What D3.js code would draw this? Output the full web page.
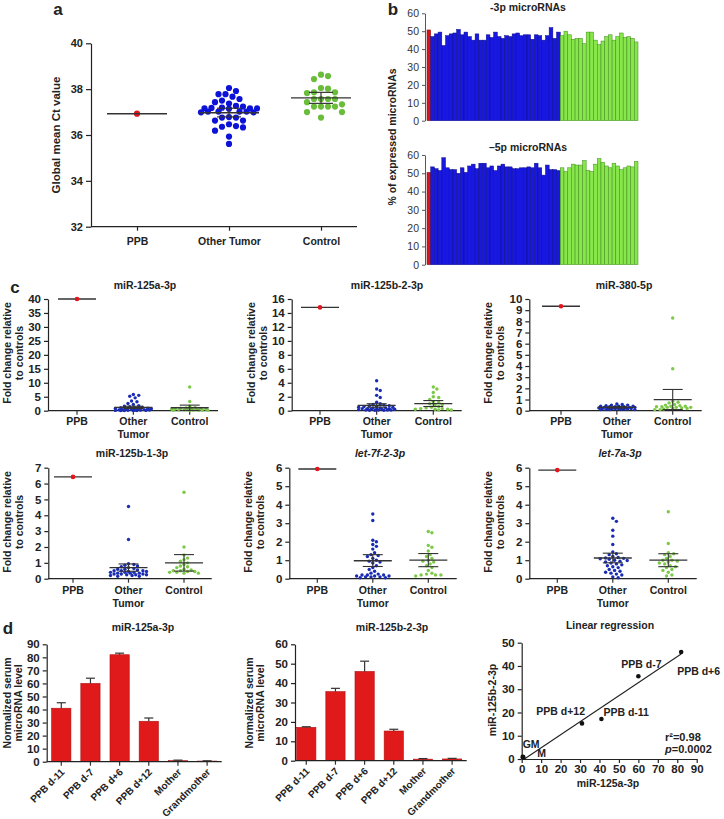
<!DOCTYPE html>
<html><head><meta charset="utf-8">
<script src="https://cdn.jsdelivr.net/npm/d3@7"></script>
<style>
body{margin:0;background:#fff;}
svg{display:block;font-family:"Liberation Sans",Arial,Helvetica,sans-serif;background:#fff;}
</style></head><body>
<svg id="fig" width="724" height="819"></svg>
<script>
// ---------------- DATA ----------------
// Panel a
const aGroups = ["PPB", "Other Tumor", "Control"];
const aTicks = [32, 34, 36, 38, 40];
const aPPB = [36.93];
const aOther = [37.92,37.78,37.78,38.05,37.67,37.57,37.43,37.37,37.5,37.24,37.16,37.18,37.14,37.16,37.16,37.19,37.27,37.02,37.02,36.99,37.02,36.99,37.02,36.63,36.76,36.76,36.78,36.63,36.36,36.33,36.39,36.47,36.19,35.93,35.61];
const aControl = [38.63,38.57,38.44,38.05,38.02,37.86,37.86,37.83,37.57,37.57,37.57,37.57,37.34,37.24,37.24,37.24,37.24,37.43,37.0,37.0,36.76];
const aMean = [36.93, 36.97, 37.62];
const aSEhi = [36.93, 37.17, 37.86];
const aSElo = [36.93, 36.79, 37.38];

// Panel b
const bTitles = ["-3p microRNAs", "\u20135p microRNAs"];
const bTicks = [0, 10, 20, 30, 40, 50, 60];
const bGroupSizes = [1, 35, 21]; // PPB, Other Tumor, Control
const b3p = [50.7,
  47,48.5,49.5,42,47.5,48.5,49,51,48,49.5,47,45,48.5,45,45,48,46.5,49.5,47,46,47.5,47,48.5,49,47.5,48,48,45.5,48,47.5,45,47.5,52,46,49.5,
  47.5,50,48,45.5,46,46,43,49.5,49.5,45,42.5,44.5,47,48,45,47,49,46.5,47,46,44];
const b5p = [50.5,
  53.5,52.5,51.5,58.5,53,52,52,50,53,50.5,54,55,52.5,55.5,55.5,53,54,51.5,54,55,53.5,53.5,52.5,52.5,53,53,53.5,53,55.5,53,49,54.5,52,52,51.5,
  53,51,53,55,54.5,54.5,57,51.5,51,55,58,56,54,53,55.5,54,52,53,54,53.5,56.5];

// Panel c
const cTitles = ["miR-125a-3p", "miR-125b-2-3p", "miR-380-5p", "miR-125b-1-3p", "let-7f-2-3p", "let-7a-3p"];
const cYMax = [40, 16, 10, 7, 6, 6];
const cYStep = [5, 2, 1, 1, 1, 1];
const cPPB = [40, 14.8, 9.35, 6.42, 5.93, 5.87];
const cOther125a = [5.8,5.5,5.2,4.6,3.5,3.2,2.6,2.2,1.8,1.6,1.4,1.2,1.1,1.0,0.9,0.8,0.7,0.6,0.5,0.45,0.4,0.35,0.3,0.25,0.2,0.2,0.15,0.1,0.1,0.05,0.05,0.05,0.05];
const cCtrl125a = [8.5,3.3,1.6,1.2,1.0,0.9,0.8,0.7,0.6,0.5,0.5,0.4,0.35,0.3,0.3,0.25,0.2,0.2,0.15,0.1,0.1];
const cOther125b2 = [4.3,3.1,2.9,2.2,1.9,1.2,1.0,0.9,0.8,0.7,0.7,0.6,0.6,0.5,0.5,0.4,0.4,0.4,0.3,0.3,0.3,0.2,0.2,0.2,0.2,0.15,0.1,0.1,0.1,0.1,0.05,0.05,0.05];
const cCtrl125b2 = [3.4,3.1,2.6,2.0,1.9,1.6,1.3,1.2,1.0,0.9,0.8,0.6,0.5,0.4,0.3,0.3,0.2,0.2,0.2,0.1,0.1];
const cOther380 = [0.6,0.55,0.5,0.5,0.45,0.4,0.4,0.4,0.35,0.35,0.35,0.3,0.3,0.3,0.3,0.25,0.25,0.25,0.25,0.2,0.2,0.2,0.2,0.2,0.15,0.15,0.15,0.15,0.1,0.1,0.1,0.1,0.1];
const cCtrl380 = [8.3,3.75,0.85,0.75,0.7,0.55,0.5,0.45,0.4,0.4,0.35,0.35,0.3,0.3,0.3,0.25,0.2,0.2,0.15,0.1,0.1];
const cOther125b1 = [4.55,2.47,0.95,0.9,0.85,0.8,0.75,0.7,0.65,0.6,0.6,0.55,0.5,0.5,0.5,0.45,0.45,0.4,0.4,0.4,0.35,0.35,0.35,0.3,0.3,0.3,0.25,0.25,0.25,0.2,0.2,0.15,0.15];
const cCtrl125b1 = [5.45,2.0,1.5,1.3,1.2,1.1,1.0,0.9,0.8,0.75,0.7,0.6,0.55,0.5,0.5,0.45,0.45,0.4,0.4,0.35,0.35];
const cOther7f = [3.5,3.15,2.08,2.0,1.85,1.75,1.6,1.4,1.3,1.25,1.2,1.1,1.0,0.95,0.9,0.85,0.7,0.6,0.5,0.4,0.3,0.25,0.2,0.2,0.2,0.15,0.15,0.15,0.1,0.1,0.1,0.05,0.05];
const cCtrl7f = [2.55,2.48,1.8,1.7,1.5,1.3,1.2,1.1,1.0,0.95,0.9,0.8,0.7,0.6,0.45,0.3,0.25,0.2,0.2,0.2,0.15];
const cOther7a = [3.27,3.1,2.62,2.3,1.85,1.45,1.35,1.3,1.2,1.15,1.12,1.1,1.08,1.05,1.0,0.98,0.95,0.9,0.85,0.8,0.75,0.7,0.65,0.6,0.5,0.45,0.4,0.35,0.3,0.25,0.2,0.1,0.05];
const cCtrl7a = [3.62,1.9,1.4,1.35,1.3,1.2,1.1,1.0,1.0,0.95,0.9,0.85,0.8,0.7,0.65,0.6,0.5,0.45,0.35,0.2,0.15];
const cOtherMean = [1.2, 0.75, 0.3, 0.7, 0.97, 1.12];
const cOtherHi = [1.6, 1.0, 0.36, 0.93, 1.3, 1.38];
const cOtherLo = [0.8, 0.5, 0.24, 0.47, 0.66, 0.86];
const cCtrlMean = [1.05, 1.02, 1.0, 1.0, 1.0, 1.0];
const cCtrlHi = [2.0, 1.45, 1.9, 1.52, 1.36, 1.35];
const cCtrlLo = [0.1, 0.6, 0.1, 0.48, 0.65, 0.65];

// Panel d
const dSamples = ["PPB d-11", "PPB d-7", "PPB d+6", "PPB d+12", "Mother", "Grandmother"];
const dTitles = ["miR-125a-3p", "miR-125b-2-3p"];
const d125a = [41, 60, 82, 31, 0.8, 0.5];
const d125aErr = [4.2, 4.0, 1.2, 2.5, 0.4, 0.2];
const d125b2 = [17.2, 35.6, 46, 15.3, 0.8, 0.9];
const d125b2Err = [0.3, 1.7, 5.3, 0.9, 0.3, 0.3];
const regLabels = ["PPB d-11", "PPB d-7", "PPB d+6", "PPB d+12", "M", "GM"];
const regStats = ["r\u00b2=0.98", "=0.0002"];

// ---------------- DRAWING ----------------
const svg = d3.select("#fig");
const INK = "#222";
const RED = "#e3141c", BLUE = "#0c12d6", GREEN = "#69bd3a";
const BLUE_C = "#1a2cb4", GREEN_C = "#7cc947";
const intFmt = d3.format("~g");

function txt(g, x, y, s, o = {}) {
  const t = g.append("text").attr("x", x).attr("y", y).text(s)
    .attr("text-anchor", o.anchor || "middle")
    .style("font-size", (o.size || 10.5) + "px")
    .style("font-weight", o.weight || "bold")
    .attr("fill", o.fill || INK);
  if (o.italic) t.style("font-style", "italic");
  if (o.rotate) t.attr("transform", `rotate(${o.rotate},${x},${y})`);
  return t;
}
function styleAxis(g, fs, weight, fill) {
  g.attr("font-family", null).attr("font-size", null);
  g.selectAll("path.domain").attr("stroke", INK).attr("stroke-width", 1.2);
  g.selectAll(".tick line").attr("stroke", INK).attr("stroke-width", 1.2);
  g.selectAll(".tick text").attr("fill", fill || INK)
    .style("font-size", fs + "px").style("font-weight", weight);
}
// beeswarm layout limited to +-maxW around the category centre
function swarm(values, y, cx, r, step, maxW) {
  const pts = values.map(v => ({ v, py: y(v) })).sort((a, b) => b.v - a.v);
  const placed = [];
  const minD = 2 * r + 0.4;
  const nSteps = Math.floor(maxW / step);
  for (const p of pts) {
    let best = cx, bestScore = -1, done = false;
    for (let k = 0; k <= 2 * nSteps; k++) {
      const off = k === 0 ? 0 : (k % 2 ? 1 : -1) * Math.ceil(k / 2) * step;
      const x = cx + off;
      let md = Infinity;
      for (const q of placed) md = Math.min(md, Math.hypot(q.px - x, q.py - p.py));
      if (md >= minD) { p.px = x; done = true; break; }
      if (md > bestScore + 0.01) { bestScore = md; best = x; }
    }
    if (!done) p.px = best;
    placed.push(p);
  }
  return placed;
}
function hline(g, x1, x2, y, w = 1.3) {
  g.append("line").attr("x1", x1).attr("x2", x2).attr("y1", y).attr("y2", y)
    .attr("stroke", "#333").attr("stroke-width", w);
}
function vline(g, x, y1, y2, w = 1.3) {
  g.append("line").attr("x1", x).attr("x2", x).attr("y1", y1).attr("y2", y2)
    .attr("stroke", "#333").attr("stroke-width", w);
}

// panel letters
txt(svg, 58, 15, "a", { size: 17 });
txt(svg, 393, 15, "b", { size: 17 });
txt(svg, 15, 293, "c", { size: 17 });
txt(svg, 8, 634, "d", { size: 17 });

// ---------- Panel a ----------
(function () {
  const g = svg.append("g");
  const y = d3.scaleLinear([32, 40], [226.7, 43.3]);
  const x = d3.scalePoint(aGroups, [137, 321]);
  const ya = g.append("g").attr("transform", "translate(91,0)")
    .call(d3.axisLeft(y).tickValues(aTicks).tickFormat(intFmt).tickSize(5).tickPadding(3).tickSizeOuter(0));
  styleAxis(ya, 11, "bold");
  const xa = g.append("g").attr("transform", "translate(0,226.7)")
    .call(d3.axisBottom(x).tickSize(4).tickPadding(5).tickSizeOuter(0));
  xa.select("path.domain").remove();
  styleAxis(xa, 10.5, "bold");
  xa.selectAll(".tick text").attr("dy", "0.9em");
  g.append("line").attr("x1", 91).attr("x2", 357).attr("y1", 226.7).attr("y2", 226.7)
    .attr("stroke", INK).attr("stroke-width", 1.2);
  txt(g, 60, 135, "Global mean Ct value", { size: 11.5, rotate: -90 });

  const sets = [aPPB, aOther, aControl];
  const cols = [RED, BLUE, GREEN];
  sets.forEach((vals, i) => {
    const cx = x(aGroups[i]);
    const pts = swarm(vals, y, cx, 3.1, 3.5, 30);
    g.append("g").selectAll("circle").data(pts).join("circle")
      .attr("cx", d => d.px).attr("cy", d => d.py).attr("r", 3.1).attr("fill", cols[i]);
    hline(g, cx - 30, cx + 30, y(aMean[i]), 1.4);
    if (i > 0) {
      vline(g, cx, y(aSEhi[i]), y(aSElo[i]), 1.2);
      hline(g, cx - 12, cx + 12, y(aSEhi[i]), 1.2);
      hline(g, cx - 12, cx + 12, y(aSElo[i]), 1.2);
    }
  });
})();

// ---------- Panel b ----------
(function () {
  const g = svg.append("g");
  const n = b3p.length;
  const groupOf = [];
  bGroupSizes.forEach((s, gi) => { for (let k = 0; k < s; k++) groupOf.push(gi); });
  const fills = ["#d8141a", "#1818e0", "#86e64a"];
  const strokes = ["#8a0a0e", "#0a0a8a", "#3f8a1c"];
  const x = d3.scaleBand(d3.range(n), [427, 638]).padding(0);
  const defs = [
    { data: b3p, y0: 120.7, y1: 13.3, title: bTitles[0], ty: 11 },
    { data: b5p, y0: 264.7, y1: 155, title: bTitles[1], ty: 151 }
  ];
  defs.forEach(d => {
    const y = d3.scaleLinear([0, 60], [d.y0, d.y1]);
    g.append("g").selectAll("rect").data(d.data).join("rect")
      .attr("x", (v, i) => x(i)).attr("width", x.bandwidth())
      .attr("y", v => y(v)).attr("height", v => y(0) - y(v))
      .attr("fill", (v, i) => fills[groupOf[i]])
      .attr("stroke", (v, i) => strokes[groupOf[i]]).attr("stroke-width", 0.5);
    const ax = g.append("g").attr("transform", "translate(425,0)")
      .call(d3.axisLeft(y).tickValues(bTicks).tickFormat(intFmt).tickSize(3).tickPadding(3).tickSizeOuter(0));
    styleAxis(ax, 10.5, "normal", "#333");
    ax.selectAll("path.domain, .tick line").attr("stroke-width", 0.9).attr("stroke", "#444");
    txt(g, 528, d.ty, d.title, { size: 10.5 });
  });
  txt(g, 396, 137, "% of expressed microRNAs", { size: 10.5, rotate: -90 });
})();

// ---------- Panel c ----------
const cLayout = [
  { ax: 48, end: 218, cats: [77, 189.7], row: 0, tx: 145 },
  { ax: 291.7, end: 461.7, cats: [320, 433.3], row: 0, tx: 387 },
  { ax: 529.3, end: 701.7, cats: [561, 672.7], row: 0, tx: 624 },
  { ax: 48.3, end: 211.7, cats: [73, 184], row: 1, tx: 132 },
  { ax: 289.3, end: 456.7, cats: [317.3, 428.3], row: 1, tx: 380 },
  { ax: 529.3, end: 696.7, cats: [557.3, 668.3], row: 1, tx: 620 }
];
const cRows = [
  { y0: 410.7, top: 299, title: 289, lab: 425, lab2: 438, ymid: 353 },
  { y0: 578.7, top: 467.7, title: 457, lab: 594, lab2: 607, ymid: 522 }
];
const cOthers = [cOther125a, cOther125b2, cOther380, cOther125b1, cOther7f, cOther7a];
const cCtrls = [cCtrl125a, cCtrl125b2, cCtrl380, cCtrl125b1, cCtrl7f, cCtrl7a];
cTitles.forEach((title, i) => {
  const L = cLayout[i], R = cRows[L.row];
  const g = svg.append("g");
  const y = d3.scaleLinear([0, cYMax[i]], [R.y0, R.top]);
  const x = d3.scalePoint(aGroups, L.cats);
  const ya = g.append("g").attr("transform", `translate(${L.ax},0)`)
    .call(d3.axisLeft(y).tickValues(d3.range(0, cYMax[i] + 0.001, cYStep[i])).tickFormat(intFmt).tickSize(4).tickPadding(3).tickSizeOuter(0));
  styleAxis(ya, 11.5, "bold");
  g.append("line").attr("x1", L.ax).attr("x2", L.end).attr("y1", R.y0).attr("y2", R.y0)
    .attr("stroke", INK).attr("stroke-width", 1.2);
  aGroups.forEach(c => vline(g, x(c), R.y0, R.y0 + 4, 1.2));
  txt(g, x("PPB"), R.lab, "PPB");
  txt(g, x("Other Tumor"), R.lab, "Other");
  txt(g, x("Other Tumor"), R.lab2, "Tumor");
  txt(g, x("Control"), R.lab, "Control");
  const italic = title.startsWith("let");
  txt(g, L.tx, R.title, title, { italic });
  txt(g, L.ax - 37, R.ymid, "Fold change relative", { rotate: -90 });
  txt(g, L.ax - 25, R.ymid, "to controls", { rotate: -90 });

  // PPB
  const px = x("PPB");
  hline(g, px - 19, px + 19, y(cPPB[i]), 1.3);
  g.append("circle").attr("cx", px).attr("cy", y(cPPB[i])).attr("r", 2.3).attr("fill", RED);
  const groups = [
    { vals: cOthers[i], col: BLUE_C, cat: "Other Tumor", m: cOtherMean[i], hi: cOtherHi[i], lo: cOtherLo[i] },
    { vals: cCtrls[i], col: GREEN_C, cat: "Control", m: cCtrlMean[i], hi: cCtrlHi[i], lo: cCtrlLo[i] }
  ];
  groups.forEach(G => {
    const cx = x(G.cat);
    const pts = swarm(G.vals, y, cx, 1.7, 1.8, 18);
    g.append("g").selectAll("circle").data(pts).join("circle")
      .attr("cx", d => d.px).attr("cy", d => d.py).attr("r", 1.7).attr("fill", G.col);
    hline(g, cx - 19, cx + 19, y(G.m), 1.3);
    vline(g, cx, y(G.hi), y(G.lo), 1.1);
    hline(g, cx - 10, cx + 10, y(G.hi), 1.1);
    hline(g, cx - 10, cx + 10, y(G.lo), 1.1);
  });
});

// ---------- Panel d bars ----------
const dLayout = [
  { vals: d125a, err: d125aErr, ymax: 90, ax: 46.7, band: [46.7, 221.7], end: 221.7, y0: 761.7, top: 644.3, tx: 143, yt1: 10.5, yt2: 21.5 },
  { vals: d125b2, err: d125b2Err, ymax: 60, ax: 295, band: [291.7, 466.7], end: 466.7, y0: 760.7, top: 644.3, tx: 392, yt1: 252.5, yt2: 263.5 }
];
dLayout.forEach((D, i) => {
  const g = svg.append("g");
  const y = d3.scaleLinear([0, D.ymax], [D.y0, D.top]);
  const x = d3.scaleBand(dSamples, D.band).paddingInner(0.34).paddingOuter(0.17);
  g.append("g").selectAll("rect").data(D.vals).join("rect")
    .attr("x", (v, k) => x(dSamples[k])).attr("width", x.bandwidth())
    .attr("y", v => y(v)).attr("height", v => y(0) - y(v))
    .attr("fill", "#e01a1a").attr("stroke", "#b01010").attr("stroke-width", 0.6);
  D.vals.forEach((v, k) => {
    const cx = x(dSamples[k]) + x.bandwidth() / 2;
    vline(g, cx, y(v), y(v + D.err[k]), 1.2);
    hline(g, cx - 4.5, cx + 4.5, y(v + D.err[k]), 1.2);
    vline(g, cx, D.y0, D.y0 + 4, 1.2);
    txt(g, cx + 4, D.y0 + 11, dSamples[k], { anchor: "end", rotate: -45, size: 10 });
  });
  const ya = g.append("g").attr("transform", `translate(${D.ax},0)`)
    .call(d3.axisLeft(y).tickValues(d3.range(0, D.ymax + 0.001, 10)).tickFormat(intFmt).tickSize(4).tickPadding(3).tickSizeOuter(0));
  styleAxis(ya, 11.5, "bold");
  g.append("line").attr("x1", D.ax).attr("x2", D.end).attr("y1", D.y0).attr("y2", D.y0)
    .attr("stroke", INK).attr("stroke-width", 1.2);
  txt(g, D.tx, 631, dTitles[i]);
  txt(g, D.yt1, 703, "Normalized serum", { rotate: -90 });
  txt(g, D.yt2, 703, "microRNA level", { rotate: -90 });
});

// ---------- Panel d regression ----------
(function () {
  const g = svg.append("g");
  const x = d3.scaleLinear([0, 90], [521.7, 696.7]);
  const y = d3.scaleLinear([0, 50], [759, 642.7]);
  const xa = g.append("g").attr("transform", "translate(0,759)")
    .call(d3.axisBottom(x).tickValues(d3.range(0, 91, 10)).tickFormat(intFmt).tickSize(4).tickPadding(2).tickSizeOuter(0));
  styleAxis(xa, 11.5, "bold");
  const ya = g.append("g").attr("transform", "translate(521.7,0)")
    .call(d3.axisLeft(y).tickValues(d3.range(0, 51, 10)).tickFormat(intFmt).tickSize(4).tickPadding(3).tickSizeOuter(0));
  styleAxis(ya, 11.5, "bold");
  // least-squares fit from the data
  const mx = d3.mean(d125a), my = d3.mean(d125b2);
  const sxy = d3.sum(d125a, (v, k) => (v - mx) * (d125b2[k] - my));
  const sxx = d3.sum(d125a, v => (v - mx) ** 2);
  const slope = sxy / sxx, icpt = my - slope * mx;
  const xs = -icpt / slope, xe = d3.max(d125a);
  g.append("line").attr("x1", x(xs)).attr("y1", y(0)).attr("x2", x(xe)).attr("y2", y(icpt + slope * xe))
    .attr("stroke", "#222").attr("stroke-width", 1.1);
  g.append("g").selectAll("circle").data(d125a).join("circle")
    .attr("cx", v => x(v)).attr("cy", (v, k) => y(d125b2[k])).attr("r", 2.3).attr("fill", "#111");
  const lab = [
    { anchor: "start", dx: 2, dy: -3 },
    { anchor: "middle", dx: 3, dy: -8 },
    { anchor: "start", dx: -4, dy: 23 },
    { anchor: "end", dx: 3, dy: -8 },
    { anchor: "start", dx: 14, dy: 0 },
    { anchor: "start", dx: 0, dy: -9 }
  ];
  regLabels.forEach((s, k) => {
    txt(g, x(d125a[k]) + lab[k].dx, y(d125b2[k]) + lab[k].dy, s, { anchor: lab[k].anchor, size: 10.5 });
  });
  txt(g, 665, 741, regStats[0], { anchor: "start", size: 11 });
  const p = txt(g, 665, 753, "", { anchor: "start", size: 11 });
  p.append("tspan").text("p").style("font-style", "italic");
  p.append("tspan").text(regStats[1]);
  txt(g, 610, 629, "Linear regression");
  txt(g, 608, 787, "miR-125a-3p");
  txt(g, 496, 700, "miR-125b-2-3p", { rotate: -90 });
})();
</script>
</body></html>
